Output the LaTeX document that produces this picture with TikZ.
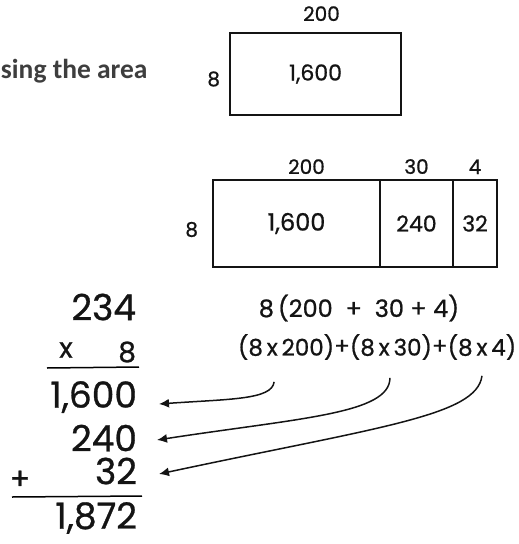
\documentclass[tikz,border=0pt]{standalone}
\usepackage{fontspec}
\setmainfont{Poppins}[FakeBold=0.8]
\newfontfamily\headfont{Carlito}
\usepackage{tikz}
\usetikzlibrary{arrows.meta, positioning, calc}
\definecolor{inkblack}{RGB}{20, 20, 20}
\definecolor{headgray}{RGB}{62, 62, 62}
\newcommand{\numsize}[1]{\fontsize{#1}{#1}\selectfont}

\begin{document}
\begin{tikzpicture}[x=1pt, y=-1pt,
    every node/.style={inner sep=0pt, outer sep=0pt, text=inkblack},
    cell/.style={rectangle, draw=inkblack, line width=1.6pt, minimum height=87pt},
    lbl/.style={font={\numsize{20}}},
    col/.style={font={\numsize{36}}, anchor=east},
    term/.style={font={\numsize{23}}},
    arr/.style={-{Latex[length=10pt,width=9pt]}, line width=1.5pt, draw=inkblack}
]
\useasboundingbox (0,0) rectangle (519,544);

% heading (cut off at the left)
\node[font={\headfont\bfseries\numsize{27.5}}, text=headgray, anchor=base west] (head) at (1,78) {sing the area};

% one-part area model
\node[cell, minimum width=171pt, minimum height=82pt, font={\numsize{22}}] (box) at (315.5,74) {1,600};
\node[lbl, above=12pt of box, xshift=6pt] (boxtop) {200};
\node[lbl, left=10pt of box, yshift=-5pt] (boxleft) {8};

% three-part area model
\node[cell, minimum width=167pt, font={\numsize{24}}] (c1) at (296.5,223.5) {1,600};
\node[cell, minimum width=73pt, right=0pt of c1, font={\numsize{22}}] (c2) {240};
\node[cell, minimum width=44pt, right=0pt of c2, font={\numsize{22}}] (c3) {\raisebox{-4pt}{32}};
\node[lbl, above=6pt of c1, xshift=10pt] (c1top) {200};
\node[lbl, above=6pt of c2] (c2top) {30};
\node[lbl, above=6pt of c3] (c3top) {4};
\node[lbl, left=15pt of c1, yshift=-6pt] (c1left) {8};

% column multiplication
\node[col] (m234) at (136,307) {234};
\node[font={\numsize{28}}] (mx) at (66,350) {x};
\node[col, font={\numsize{28}}] (m8) at (136,352) {8};
\node[col] (r1) at (137,397) {1,600};
\node[col] (r2) at (137,438) {240};
\node[col] (r3) at (137,471) {32};
\node[font={\numsize{30}}] (plus) at (20,480) {+};
\node[col] (total) at (137,518) {1,872};
\draw[line width=1.5pt] (47,368) -- (139,367);
\draw[line width=1.5pt] (12,497) -- (142,496);

% distributive property
\node[font={\numsize{24}}] (dist) at (359,308) {8\,(200\ \ +\ \ 30 + 4)};
\node[term, anchor=west] (t1) at (238,347) {(8\,x\,200)};
\node[term, right=0pt of t1] (p1) {+};
\node[term, right=0pt of p1] (t2) {(8\,x\,30)};
\node[term, right=0pt of t2] (p2) {+};
\node[term, right=0pt of p2] (t3) {(8\,x\,4)};

\draw[arr] ([xshift=-12pt,yshift=-22pt]t1.south) .. controls +(-2,18) and +(70,-5) .. ([xshift=22pt,yshift=-7pt]r1.east);
\draw[arr] ([xshift=-1pt,yshift=-18pt]t2.south) .. controls +(0,36) and +(143,-22) .. ([xshift=20pt,yshift=-2pt]r2.east);
\draw[arr] ([xshift=0pt,yshift=-16pt]t3.south) .. controls +(-5,40) and +(220,-47) .. ([xshift=22pt,yshift=-3pt]r3.east);

\end{tikzpicture}
\end{document}
